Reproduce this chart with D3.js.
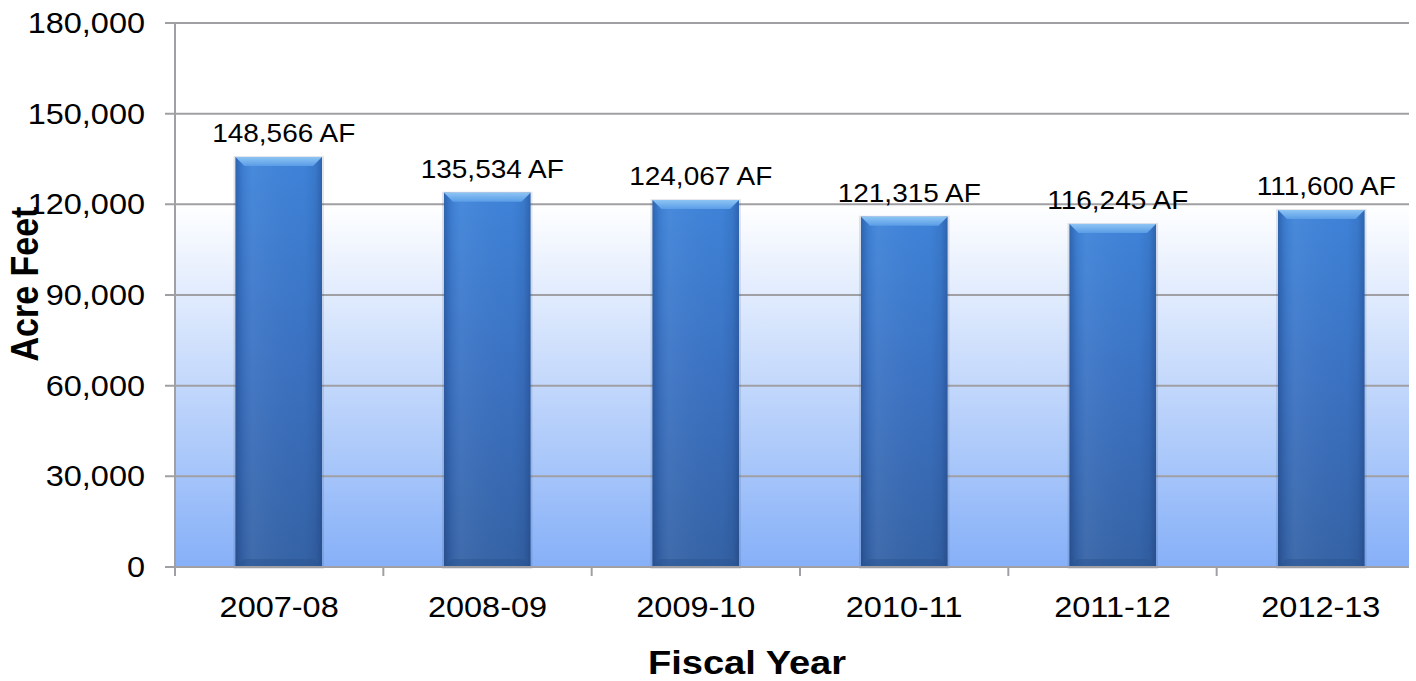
<!DOCTYPE html>
<html>
<head>
<meta charset="utf-8">
<script src="https://cdn.jsdelivr.net/npm/d3@7"></script>
<style>
  html, body { margin: 0; padding: 0; background: #fff; }
  svg { display: block; font-family: "Liberation Sans", Arial, sans-serif; }
</style>
</head>
<body>
<svg id="chart" width="1416" height="681"></svg>
<script>
// ---- data ----
const categories = ["2007-08", "2008-09", "2009-10", "2010-11", "2011-12", "2012-13"];
const barValues = [135660, 123850, 121400, 115900, 113500, 118100];
const barLabels = ["148,566 AF", "135,534 AF", "124,067 AF", "121,315 AF", "116,245 AF", "111,600 AF"];
const yTicks = [0, 30000, 60000, 90000, 120000, 150000, 180000];
const yTitle = "Acre Feet";
const xTitle = "Fiscal Year";

// ---- layout ----
const W = 1416, H = 681;
const plot = { left: 175, right: 1425, clipRight: 1409, top: 23, bottom: 567 };
const svg = d3.select("#chart");
const defs = svg.append("defs");
const STRETCH = 1.12;

const x = d3.scaleBand().domain(categories).range([plot.left, plot.right]).paddingInner(0.585).paddingOuter(0.29);
const xOuter = d3.scaleBand().domain(categories).range([plot.left, plot.right]);
const y = d3.scaleLinear().domain([0, 180000]).range([plot.bottom, plot.top]);

// background gradient
const bg = defs.append("linearGradient").attr("id", "bg")
  .attr("gradientUnits", "userSpaceOnUse").attr("x1", 0).attr("y1", plot.top).attr("x2", 0).attr("y2", plot.bottom);
bg.append("stop").attr("offset", 0).attr("stop-color", "#ffffff");
bg.append("stop").attr("offset", (y(120000) - plot.top) / (plot.bottom - plot.top)).attr("stop-color", "#ffffff");
bg.append("stop").attr("offset", 1).attr("stop-color", "#86b0f8");
svg.append("rect").attr("x", plot.left).attr("y", plot.top).attr("width", plot.clipRight - plot.left)
  .attr("height", plot.bottom - plot.top).attr("fill", "url(#bg)");

// gridlines
svg.append("g").selectAll("line").data(yTicks).join("line")
  .attr("x1", plot.left - 10).attr("x2", plot.clipRight)
  .attr("y1", d => y(d)).attr("y2", d => y(d))
  .attr("stroke", "#a0a0a4").attr("stroke-width", 2);

// bar gradients
const gv = defs.append("linearGradient").attr("id", "barV").attr("x1", 0).attr("y1", 0).attr("x2", 0).attr("y2", 1);
gv.append("stop").attr("offset", 0).attr("stop-color", "#3f84da");
gv.append("stop").attr("offset", 0.5).attr("stop-color", "#3b72c2");
gv.append("stop").attr("offset", 1).attr("stop-color", "#3563a6");
const gh = defs.append("linearGradient").attr("id", "barH").attr("x1", 0).attr("y1", 0).attr("x2", 1).attr("y2", 0);
gh.append("stop").attr("offset", 0).attr("stop-color", "#102a60").attr("stop-opacity", 0.35);
gh.append("stop").attr("offset", 0.08).attr("stop-color", "#102a60").attr("stop-opacity", 0.08);
gh.append("stop").attr("offset", 0.2).attr("stop-color", "#ffffff").attr("stop-opacity", 0.05);
gh.append("stop").attr("offset", 0.8).attr("stop-color", "#102a60").attr("stop-opacity", 0.02);
gh.append("stop").attr("offset", 0.92).attr("stop-color", "#102a60").attr("stop-opacity", 0.12);
gh.append("stop").attr("offset", 1).attr("stop-color", "#102a60").attr("stop-opacity", 0.35);
const gt = defs.append("linearGradient").attr("id", "barTop").attr("x1", 0).attr("y1", 0).attr("x2", 0).attr("y2", 1);
gt.append("stop").attr("offset", 0).attr("stop-color", "#8cc4f4");
gt.append("stop").attr("offset", 1).attr("stop-color", "#5a9ce6");

const bars = svg.append("g").selectAll("g").data(categories.map((c, i) => ({ c, v: barValues[i], label: barLabels[i] }))).join("g");
bars.append("rect").attr("x", d => x(d.c) - 2).attr("y", d => y(d.v) - 1)
  .attr("width", x.bandwidth() + 4).attr("height", d => y(0) - y(d.v) + 3)
  .attr("fill", "#20304a").attr("opacity", 0.12);
bars.append("rect").attr("x", d => x(d.c)).attr("y", d => y(d.v))
  .attr("width", x.bandwidth()).attr("height", d => y(0) - y(d.v)).attr("fill", "url(#barV)");
bars.append("rect").attr("x", d => x(d.c)).attr("y", d => y(d.v))
  .attr("width", x.bandwidth()).attr("height", d => y(0) - y(d.v)).attr("fill", "url(#barH)");
// top bevel
bars.append("path").attr("d", d => {
  const x0 = x(d.c), x1 = x0 + x.bandwidth(), t = y(d.v), b = 9;
  return `M${x0},${t}L${x1},${t}L${x1 - b},${t + b}L${x0 + b},${t + b}Z`;
}).attr("fill", "url(#barTop)");
// bottom bevel
bars.append("path").attr("d", d => {
  const x0 = x(d.c), x1 = x0 + x.bandwidth(), bt = y(0), b = 8;
  return `M${x0},${bt}L${x1},${bt}L${x1 - b},${bt - b}L${x0 + b},${bt - b}Z`;
}).attr("fill", "#2a5590").attr("opacity", 0.45);

// axes lines
svg.append("line").attr("x1", plot.left).attr("x2", plot.left).attr("y1", plot.top).attr("y2", plot.bottom + 9)
  .attr("stroke", "#a0a0a4").attr("stroke-width", 2);
svg.append("line").attr("x1", plot.left).attr("x2", plot.clipRight).attr("y1", plot.bottom).attr("y2", plot.bottom)
  .attr("stroke", "#a0a0a4").attr("stroke-width", 2);
svg.append("g").selectAll("line").data(categories.slice(1)).join("line")
  .attr("x1", d => xOuter(d)).attr("x2", d => xOuter(d))
  .attr("y1", plot.bottom).attr("y2", plot.bottom + 9)
  .attr("stroke", "#a0a0a4").attr("stroke-width", 2);

// helper for horizontally stretched text
function stext(g, tx, ty, str, size, anchor, weight) {
  return g.append("text").attr("transform", `translate(${tx},${ty}) scale(${STRETCH},1)`)
    .attr("text-anchor", anchor).attr("font-size", size).attr("font-weight", weight || "normal")
    .attr("fill", "#000").text(str);
}

// y tick labels
const yl = svg.append("g");
yTicks.forEach(t => stext(yl, plot.left - 30, y(t) + 10, d3.format(",")(t), 29, "end"));

// x tick labels
const xl = svg.append("g");
categories.forEach(c => stext(xl, xOuter(c) + xOuter.bandwidth() / 2, 617, c, 29, "middle"));

// bar labels
const bl = svg.append("g");
bars.each(function (d) {
  stext(bl, x(d.c) + x.bandwidth() / 2 + 5, y(d.v) - 15, d.label, 25, "middle");
});

// axis titles
svg.append("text").attr("transform", `translate(38,284) rotate(-90) scale(1,${STRETCH})`)
  .attr("text-anchor", "middle").attr("font-size", 34).attr("font-weight", "bold").text(yTitle);
stext(svg, 747, 674, xTitle, 34, "middle", "bold");
</script>
</body>
</html>
